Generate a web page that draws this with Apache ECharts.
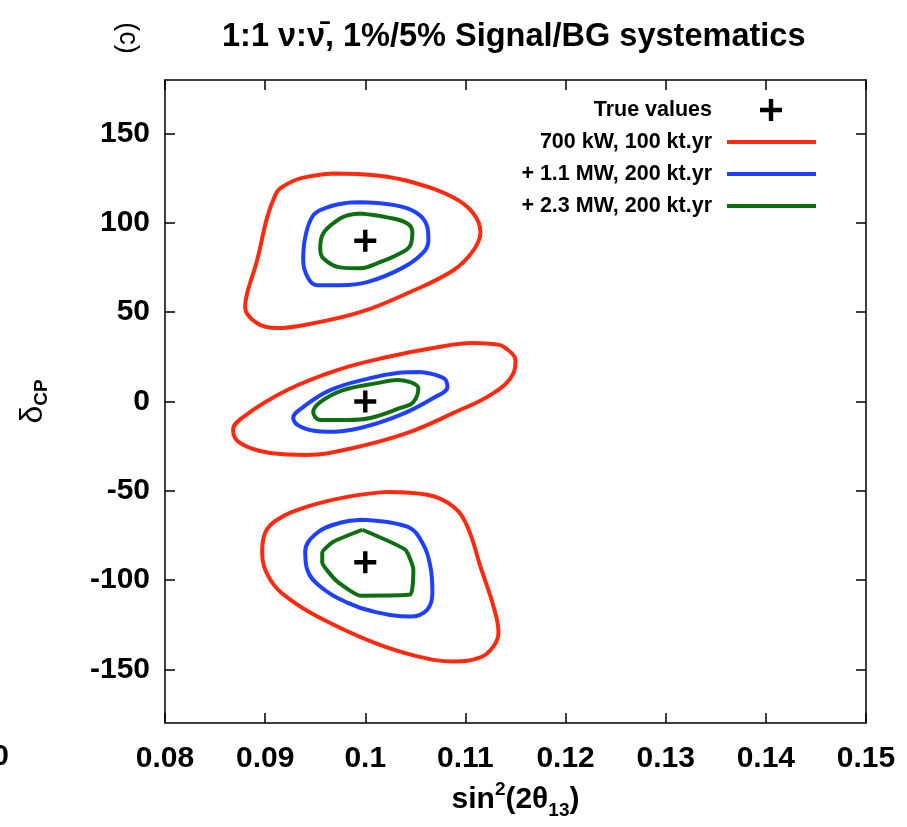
<!DOCTYPE html>
<html>
<head>
<meta charset="utf-8">
<script src="https://cdn.jsdelivr.net/npm/echarts@6/dist/echarts.min.js"></script>
<style>
  html, body { margin: 0; padding: 0; background: #fff; }
  #chart { width: 907px; height: 827px; }
</style>
</head>
<body>
<div id="chart"></div>
<script>
// sin^2(2theta13) ticks and delta_CP ticks
const xTicks = [0.08, 0.09, 0.1, 0.11, 0.12, 0.13, 0.14, 0.15];
const yTicks = [-150, -100, -50, 0, 50, 100, 150];

const trueValues = [[0.1, 90], [0.1, 0], [0.1, -90]];

// 700 kW, 100 kt.yr
const redUpper = [
  [0.0968, 127.7], [0.1012, 126.5], [0.1048, 122.6], [0.1088, 114.2], [0.1108, 105.3],
  [0.1115, 94.7], [0.1108, 84.6], [0.1088, 73.5], [0.1042, 60.6], [0.0995, 50.0],
  [0.0938, 42.7], [0.0912, 41.1], [0.0892, 43.8], [0.0880, 52.8], [0.0882, 60.6],
  [0.0892, 79.1], [0.0902, 103.1], [0.0910, 115.4], [0.0915, 119.3], [0.0935, 124.9],
  [0.0968, 127.7]
];
const redMiddle = [
  [0.1135, 31.6], [0.1150, 23.2], [0.1148, 15.9], [0.1128, 4.7], [0.1088, -6.4],
  [0.1042, -17.6], [0.0988, -26.0], [0.0942, -29.9], [0.0905, -28.8], [0.0875, -23.2],
  [0.0868, -15.9], [0.0878, -8.7], [0.0922, 6.4], [0.0972, 17.6], [0.1022, 24.9],
  [0.1072, 30.4], [0.1108, 32.7], [0.1135, 31.6]
];
const redLower = [
  [0.1022, -50.6], [0.1062, -52.2], [0.1088, -58.9], [0.1102, -70.1], [0.1115, -92.5],
  [0.1128, -114.8], [0.1133, -129.3], [0.1128, -137.1], [0.1115, -143.3], [0.1088, -145.5],
  [0.1052, -142.7], [0.1008, -134.9], [0.0958, -122.1], [0.0925, -110.9], [0.0905, -99.7],
  [0.0897, -84.6], [0.0900, -73.5], [0.0912, -66.2], [0.0942, -58.9], [0.0982, -53.4],
  [0.1022, -50.6]
];

// + 1.1 MW, 200 kt.yr
const blueUpper = [
  [0.0995, 111.5], [0.1042, 108.1], [0.1062, 97.5], [0.1063, 90.2], [0.1058, 83.5],
  [0.1038, 75.1], [0.1002, 66.8], [0.0975, 65.1], [0.0952, 65.1], [0.0943, 69.0],
  [0.0938, 79.1], [0.0940, 91.9], [0.0948, 104.2], [0.0962, 108.7], [0.0978, 110.9],
  [0.0995, 111.5]
];
const blueMiddle = [
  [0.1055, 16.5], [0.1078, 13.1], [0.1082, 8.1], [0.1068, 2.0], [0.1035, -7.5],
  [0.0995, -14.8], [0.0962, -17.0], [0.0938, -14.8], [0.0928, -9.2], [0.0938, -3.1],
  [0.0965, 6.4], [0.1005, 13.1], [0.1032, 15.9], [0.1055, 16.5]
];
const blueLower = [
  [0.0997, -66.2], [0.1042, -70.1], [0.1057, -79.1], [0.1065, -92.5], [0.1067, -107.0],
  [0.1062, -116.5], [0.1045, -120.4], [0.1008, -117.6], [0.0982, -112.6], [0.0955, -103.6],
  [0.0942, -94.1], [0.0940, -84.1], [0.0952, -73.5], [0.0975, -67.9], [0.0997, -66.2]
];

// + 2.3 MW, 200 kt.yr
const greenUpper = [
  [0.0995, 105.3], [0.1022, 103.1], [0.1042, 99.7], [0.1047, 94.7], [0.1045, 87.4],
  [0.1035, 83.0], [0.1012, 77.4], [0.0995, 74.6], [0.0975, 75.1], [0.0958, 80.2],
  [0.0955, 85.8], [0.0958, 94.1], [0.0972, 101.4], [0.0982, 104.2], [0.0995, 105.3]
];
const greenMiddle = [
  [0.1045, 10.9], [0.1053, 7.5], [0.1048, -0.3], [0.1035, -3.6], [0.1005, -9.2],
  [0.0982, -10.3], [0.0955, -10.3], [0.0948, -5.9], [0.0955, -0.3], [0.0978, 6.4],
  [0.1012, 10.3], [0.1032, 12.0], [0.1045, 10.9]
];
const greenLower = [
  [0.0997, -71.8], [0.1040, -83.0], [0.1048, -94.1], [0.1045, -108.1], [0.0995, -108.7],
  [0.0972, -100.8], [0.0957, -90.2], [0.0957, -84.6], [0.0968, -78.5], [0.0997, -71.8]
];

const names = ['True values', '700 kW, 100 kt.yr', '+ 1.1 MW, 200 kt.yr', '+ 2.3 MW, 200 kt.yr'];
const colors = ['#000000', '#ff2a10', '#2040ff', '#0f6e12'];

const FONT = '"Liberation Sans", Arial, sans-serif';
const plusPath = 'path://M8,0h4v8h8v4h-8v8h-4v-8h-8v-4h8z';

const chart = echarts.init(document.getElementById('chart'));

const contour = (name, color, data, smooth) => ({
  name: name,
  type: 'line',
  data: data,
  smooth: smooth,
  symbol: 'none',
  color: color,
  lineStyle: { color: color, width: 4 },
  silent: true,
  z: 3
});

const axisCommon = {
  type: 'value',
  axisLine: { show: true, onZero: false, lineStyle: { color: '#000', width: 1.5 } },
  axisTick: { show: true, inside: true, length: 10, lineStyle: { color: '#000', width: 1.5 } },
  splitLine: { show: false }
};

const options = {
  animation: false,
  backgroundColor: '#fff',
  title: {
    text: '1:1 \u03bd:\u03bd\u0304, 1%/5% Signal/BG systematics',
    left: 217,
    top: 16,
    textStyle: { fontFamily: FONT, fontWeight: 'bold', fontSize: 32.5, color: '#000' }
  },
  legend: [
    {
      data: [names[0]],
      orient: 'vertical',
      align: 'right',
      right: 120,
      top: 94,
      itemWidth: 22,
      itemHeight: 22,
      textStyle: { fontFamily: FONT, fontWeight: 'bold', fontSize: 21.5, color: '#000', padding: [0, 43, 0, 0] }
    },
    {
      data: names.slice(1).map(n => ({ name: n, icon: 'rect' })),
      orient: 'vertical',
      align: 'right',
      right: 86,
      top: 125,
      itemWidth: 89,
      itemHeight: 4,
      itemGap: 8,
      textStyle: { fontFamily: FONT, fontWeight: 'bold', fontSize: 21.5, lineHeight: 24, color: '#000', padding: [0, 10, 0, 0] }
    }
  ],
  grid: { left: 165, right: 41, top: 80, bottom: 104 },
  xAxis: [
    Object.assign({}, axisCommon, {
      min: 0.08,
      max: 0.15,
      interval: 0.01,
      position: 'bottom',
      axisTick: Object.assign({}, axisCommon.axisTick, { customValues: xTicks }),
      axisLabel: {
        customValues: xTicks,
        margin: 21,
        fontFamily: FONT, fontWeight: 'bold', fontSize: 30, color: '#000',
        formatter: v => String(+v.toFixed(2))
      },
      name: '{m|sin}{sup|2}{m|(2\u03b8}{sub|13}{m|)}',
      nameLocation: 'middle',
      nameGap: 57,
      nameTextStyle: {
        rich: {
          m: { fontFamily: FONT, fontWeight: 'bold', fontSize: 30, lineHeight: 40, color: '#000' },
          sup: { fontFamily: FONT, fontWeight: 'bold', fontSize: 19, lineHeight: 40, verticalAlign: 'top', color: '#000' },
          sub: { fontFamily: FONT, fontWeight: 'bold', fontSize: 19, lineHeight: 40, verticalAlign: 'bottom', color: '#000' }
        }
      }
    }),
    Object.assign({}, axisCommon, {
      min: 0.08,
      max: 0.15,
      interval: 0.01,
      position: 'top',
      axisTick: Object.assign({}, axisCommon.axisTick, { customValues: xTicks }),
      axisLabel: { show: false }
    })
  ],
  yAxis: [
    Object.assign({}, axisCommon, {
      min: -180,
      max: 180,
      position: 'left',
      axisTick: Object.assign({}, axisCommon.axisTick, { customValues: yTicks }),
      axisLabel: {
        customValues: yTicks,
        margin: 15,
        fontFamily: FONT, fontWeight: 'bold', fontSize: 30, color: '#000'
      },
      name: '{d|\u03b4}{s|CP}',
      nameLocation: 'middle',
      nameRotate: 90,
      nameGap: 114,
      nameTextStyle: {
        rich: {
          d: { fontFamily: FONT, fontSize: 32, lineHeight: 36, color: '#000' },
          s: { fontFamily: FONT, fontWeight: 'bold', fontSize: 19, lineHeight: 36, verticalAlign: 'bottom', color: '#000' }
        }
      }
    }),
    Object.assign({}, axisCommon, {
      min: -180,
      max: 180,
      position: 'right',
      axisTick: Object.assign({}, axisCommon.axisTick, { customValues: yTicks }),
      axisLabel: { show: false }
    })
  ],
  graphic: [
    {
      type: 'text',
      x: 127,
      y: 38,
      rotation: -Math.PI / 2,
      style: { text: '(c)', fontFamily: FONT, fontSize: 27, fill: '#000', align: 'center', verticalAlign: 'middle' }
    },
    {
      type: 'text',
      x: 9,
      y: 757,
      style: { text: '0', fontFamily: FONT, fontWeight: 'bold', fontSize: 30, fill: '#000', align: 'right', verticalAlign: 'middle' }
    }
  ],
  series: [
    contour(names[1], colors[1], redUpper, 0.4),
    contour(names[1], colors[1], redMiddle, 0.4),
    contour(names[1], colors[1], redLower, 0.4),
    contour(names[2], colors[2], blueUpper, 0.4),
    contour(names[2], colors[2], blueMiddle, 0.4),
    contour(names[2], colors[2], blueLower, 0.4),
    contour(names[3], colors[3], greenUpper, 0.4),
    contour(names[3], colors[3], greenMiddle, 0.4),
    contour(names[3], colors[3], greenLower, 0.15),
    {
      name: names[0],
      type: 'scatter',
      data: trueValues,
      symbol: plusPath,
      symbolSize: 22,
      itemStyle: { color: colors[0], opacity: 1 },
      silent: true,
      z: 5
    }
  ]
};

chart.setOption(options);
window.addEventListener('resize', () => chart.resize());
</script>
</body>
</html>
